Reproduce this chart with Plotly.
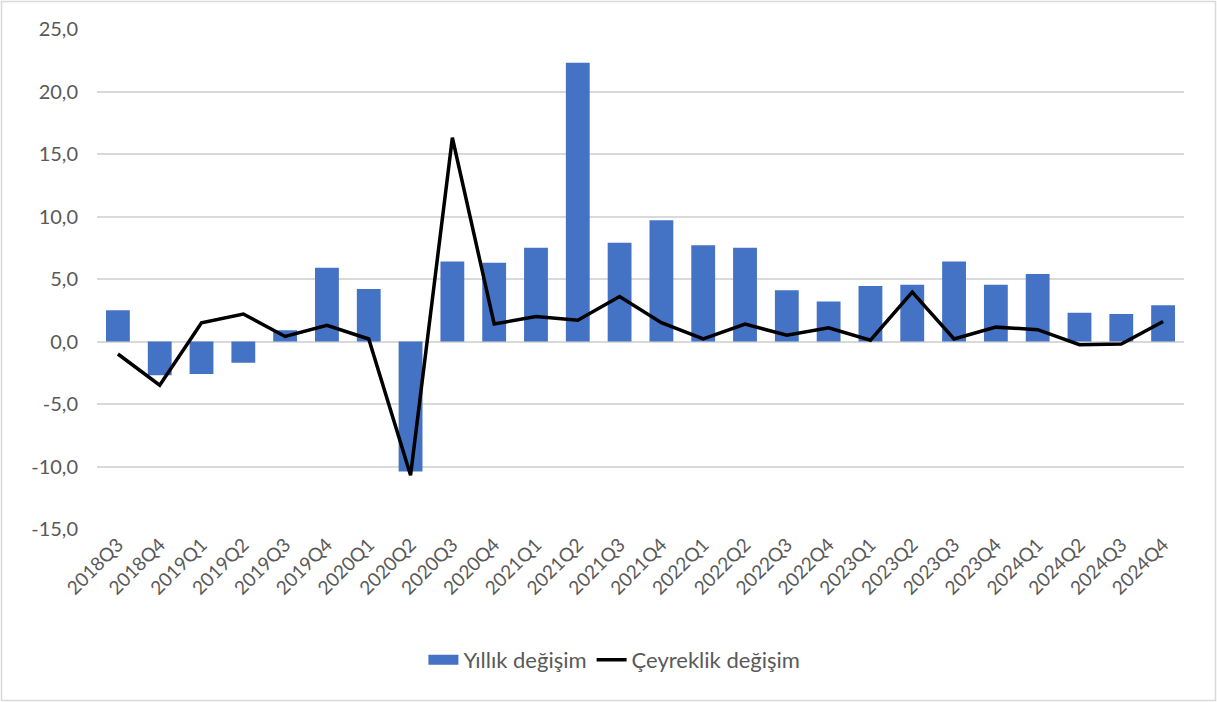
import plotly.graph_objects as go

categories = ["2018Q3", "2018Q4", "2019Q1", "2019Q2", "2019Q3", "2019Q4",
              "2020Q1", "2020Q2", "2020Q3", "2020Q4", "2021Q1", "2021Q2",
              "2021Q3", "2021Q4", "2022Q1", "2022Q2", "2022Q3", "2022Q4",
              "2023Q1", "2023Q2", "2023Q3", "2023Q4", "2024Q1", "2024Q2",
              "2024Q3", "2024Q4"]

yillik = [2.5, -2.7, -2.6, -1.7, 0.9, 5.9,
          4.2, -10.4, 6.4, 6.3, 7.5, 22.3,
          7.9, 9.7, 7.7, 7.5, 4.1, 3.2,
          4.45, 4.55, 6.4, 4.55, 5.4, 2.3,
          2.2, 2.9]

ceyreklik = [-1.0, -3.5, 1.5, 2.2, 0.4, 1.3,
             0.2, -10.7, 16.3, 1.4, 2.0, 1.7,
             3.6, 1.5, 0.2, 1.4, 0.5, 1.1,
             0.1, 3.95, 0.2, 1.15, 0.95, -0.25,
             -0.2, 1.6]

y_ticks = [-15, -10, -5, 0, 5, 10, 15, 20, 25]
y_ticktext = [f"{v:.1f}".replace(".", ",") for v in y_ticks]

W, H = 1217, 702
ML, MR, MT, MB = 97, 33, 29, 173

BLUE = "#4472C4"
GRAY_TXT = "#595959"
FONT = "Lato, 'Open Sans', sans-serif"

fig = go.Figure()
fig.add_trace(go.Bar(
    x=categories, y=yillik, name="Yıllık değişim", showlegend=False,
    marker=dict(color=BLUE, line=dict(width=0)),
))
# legend swatch for the bars (wide rectangle as in the reference)
fig.add_trace(go.Scatter(
    x=[None], y=[None], name="Yıllık değişim", mode="lines",
    line=dict(color=BLUE, width=14),
))
fig.add_trace(go.Scatter(
    x=categories, y=ceyreklik, name="Çeyreklik değişim", mode="lines",
    line=dict(color="#000000", width=3.5),
))

pw = W - ML - MR
ph = H - MT - MB
fig.add_shape(type="rect", xref="paper", yref="paper",
              x0=-(ML - 1.5) / pw, x1=1 + (MR - 1.5) / pw,
              y0=-(MB - 1.5) / ph, y1=1 + (MT - 1.5) / ph,
              line=dict(color="#d9d9d9", width=1.5), layer="below")

fig.update_layout(
    width=W, height=H,
    margin=dict(l=ML, r=MR, t=MT, b=MB, pad=0),
    paper_bgcolor="white", plot_bgcolor="white",
    font=dict(family=FONT, color=GRAY_TXT),
    bargap=0.43,
    showlegend=True,
    legend=dict(orientation="h", x=0.476, xanchor="center", y=-0.262, yanchor="middle",
                font=dict(size=22, color=GRAY_TXT), traceorder="normal"),
    xaxis=dict(
        type="category", tickangle=-45, tickfont=dict(size=19, color=GRAY_TXT),
        showgrid=False, showline=False, ticks="",
    ),
    yaxis=dict(
        range=[-15, 25], tickvals=y_ticks, ticktext=y_ticktext,
        tickfont=dict(size=20, color=GRAY_TXT),
        showgrid=True, gridcolor="#d9d9d9", gridwidth=1.5,
        zeroline=True, zerolinecolor="#d9d9d9", zerolinewidth=1.5,
        showline=False, ticks="", ticklabelstandoff=18,
    ),
)

fig.write_html("out.html", config={"displayModeBar": False},
               post_script="document.body.style.margin='0';")
